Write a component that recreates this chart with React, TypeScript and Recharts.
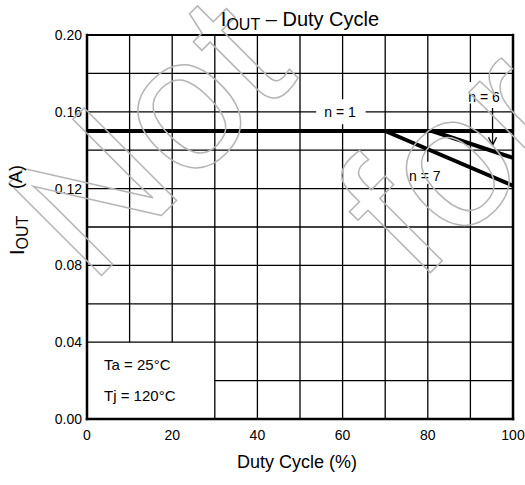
import React from "react";
import {
  LineChart,
  Line,
  XAxis,
  YAxis,
  ReferenceLine,
  ReferenceDot,
} from "recharts";

const FONT = "Arial, 'Liberation Sans', Helvetica, sans-serif";

// axis ticks and grid
const X_TICKS = [0, 20, 40, 60, 80, 100];
const Y_TICKS = [0, 0.04, 0.08, 0.12, 0.16, 0.2];
const X_GRID = [10, 20, 30, 40, 50, 60, 70, 80, 90];
const Y_GRID = [0.02, 0.04, 0.06, 0.08, 0.1, 0.12, 0.14, 0.16, 0.18];

// curves (duty cycle %, IOUT A)
const dutyN1 = [0, 100];
const ioutN1 = [0.15, 0.15];
const dutyN6 = [81, 100];
const ioutN6 = [0.15, 0.136];
const dutyN7 = [70, 100];
const ioutN7 = [0.15, 0.1215];

// curve labels
const labelText = ["n = 1", "n = 6", "n = 7"];
const labelDuty = [59.4, 93.2, 79.3];
const labelIout = [0.16, 0.1679, 0.1267];

// gaps the labels cut out of the grid lines
const gaps = [
  { dir: "v", at: 60, from: 0.1535, to: 0.1665 },
  { dir: "v", at: 90, from: 0.1643, to: 0.1755 },
  { dir: "v", at: 80, from: 0.1225, to: 0.134 },
  { dir: "h", at: 0.16, from: 53.8, to: 65.4 },
];

const toPoints = (xs: number[], ys: number[]) =>
  xs.map((x, i) => ({ duty: x, iout: ys[i] }));

type Seg = [{ x: number; y: number }, { x: number; y: number }];

function buildGrid(): Seg[] {
  const segs: Seg[] = [];
  const split = (lo: number, hi: number, cuts: { from: number; to: number }[]) => {
    const out: [number, number][] = [];
    let start = lo;
    cuts
      .slice()
      .sort((a, b) => a.from - b.from)
      .forEach((c) => {
        out.push([start, c.from]);
        start = c.to;
      });
    out.push([start, hi]);
    return out;
  };
  X_GRID.forEach((x) => {
    const lo = x < 30 ? 0.04 : 0;
    const cuts = gaps.filter((g) => g.dir === "v" && g.at === x);
    split(lo, 0.2, cuts).forEach(([a, b]) =>
      segs.push([{ x, y: a }, { x, y: b }])
    );
  });
  Y_GRID.forEach((y) => {
    const lo = y < 0.04 ? 30 : 0;
    const cuts = gaps.filter((g) => g.dir === "h" && g.at === y);
    split(lo, 100, cuts).forEach(([a, b]) =>
      segs.push([{ x: a, y }, { x: b, y }])
    );
  });
  return segs;
}

const gridSegs = buildGrid();

// arrow pointing at the n = 6 curve
const arrowShape = (p: any) => {
  const { x1, y1, x2, y2 } = p;
  return (
    <g stroke="#000" strokeWidth={1.3} fill="none">
      <line x1={x1} y1={y1} x2={x2} y2={y2} />
      <polyline points={`${x2 - 4},${y2 - 8} ${x2},${y2} ${x2 + 4},${y2 - 8}`} />
    </g>
  );
};

const labelStyle = { fontSize: 14, fill: "#000", fontFamily: FONT };

export default function App() {
  return (
    <div style={{ position: "absolute", left: 0, top: 0, width: 525, height: 485, background: "#fff" }}>
      <LineChart
        width={525}
        height={485}
        margin={{ top: 35, right: 12, bottom: 0, left: 0 }}
      >
        <XAxis
          type="number"
          dataKey="duty"
          domain={[0, 100]}
          ticks={X_TICKS}
          axisLine={false}
          tickLine={false}
          tickSize={0}
          tickMargin={11}
          height={66}
          tick={{ fontSize: 14, fill: "#000", fontFamily: FONT }}
        />
        <YAxis
          type="number"
          domain={[0, 0.2]}
          ticks={Y_TICKS}
          tickFormatter={(v: number) => v.toFixed(2)}
          axisLine={false}
          tickLine={false}
          tickSize={0}
          tickMargin={5}
          width={87}
          tick={{ fontSize: 14, fill: "#000", fontFamily: FONT }}
        />
        {gridSegs.map((s, i) => (
          <ReferenceLine key={`g${i}`} segment={s} stroke="#000" strokeWidth={1.3} />
        ))}
        <ReferenceLine x={0} stroke="#000" strokeWidth={2.5} strokeLinecap="square" />
        <ReferenceLine x={100} stroke="#000" strokeWidth={2.5} strokeLinecap="square" />
        <ReferenceLine y={0} stroke="#000" strokeWidth={2.5} strokeLinecap="square" />
        <ReferenceLine y={0.2} stroke="#000" strokeWidth={2} strokeLinecap="square" />
        <Line
          data={toPoints(dutyN1, ioutN1)}
          dataKey="iout"
          stroke="#000"
          strokeWidth={4}
          dot={false}
          isAnimationActive={false}
        />
        <Line
          data={toPoints(dutyN6, ioutN6)}
          dataKey="iout"
          stroke="#000"
          strokeWidth={4}
          dot={false}
          isAnimationActive={false}
        />
        <Line
          data={toPoints(dutyN7, ioutN7)}
          dataKey="iout"
          stroke="#000"
          strokeWidth={4}
          dot={false}
          isAnimationActive={false}
        />
        <ReferenceLine
          segment={[{ x: 95.2, y: 0.162 }, { x: 95.2, y: 0.1425 }]}
          shape={arrowShape}
        />
        {labelText.map((t, i) => (
          <ReferenceDot
            key={t}
            x={labelDuty[i]}
            y={labelIout[i]}
            r={0}
            fill="none"
            stroke="none"
            label={{ value: t, position: "center", ...labelStyle }}
          />
        ))}
        <ReferenceDot
          x={4}
          y={0.0284}
          r={0}
          fill="none"
          stroke="none"
          label={{ value: "Ta = 25°C", position: "right", offset: 0, ...labelStyle, fontSize: 15 }}
        />
        <ReferenceDot
          x={4}
          y={0.0122}
          r={0}
          fill="none"
          stroke="none"
          label={{ value: "Tj = 120°C", position: "right", offset: 0, ...labelStyle, fontSize: 15 }}
        />
      </LineChart>
      <svg
        width={525}
        height={485}
        style={{ position: "absolute", left: 0, top: 0, pointerEvents: "none" }}
        fontFamily={FONT}
      >
        {/* watermark */}
        <g fill="none" stroke="#b5b5b5" strokeWidth={1.5} fontSize={190}>
          <text x={195} y={182} textAnchor="middle" transform="rotate(-45 195 182)">
            Not
          </text>
          <text x={497} y={206} textAnchor="middle" transform="rotate(-45 497 206)">
            for
          </text>
        </g>
        <text x={300} y={26} textAnchor="middle" fontSize={20} fill="#000">
          I
          <tspan fontSize={16} dy={4}>OUT</tspan>
          <tspan dy={-4}> – Duty Cycle</tspan>
        </text>
        <text x={297} y={468} textAnchor="middle" fontSize={18} fill="#000">
          Duty Cycle (%)
        </text>
        <text
          x={24}
          y={255}
          fontSize={20}
          fill="#000"
          transform="rotate(-90 24 255)"
        >
          I
          <tspan fontSize={16} dy={4}>OUT</tspan>
        </text>
        <text
          x={22}
          y={177}
          fontSize={18}
          fill="#000"
          textAnchor="middle"
          transform="rotate(-90 22 177)"
        >
          (A)
        </text>
      </svg>
    </div>
  );
}
